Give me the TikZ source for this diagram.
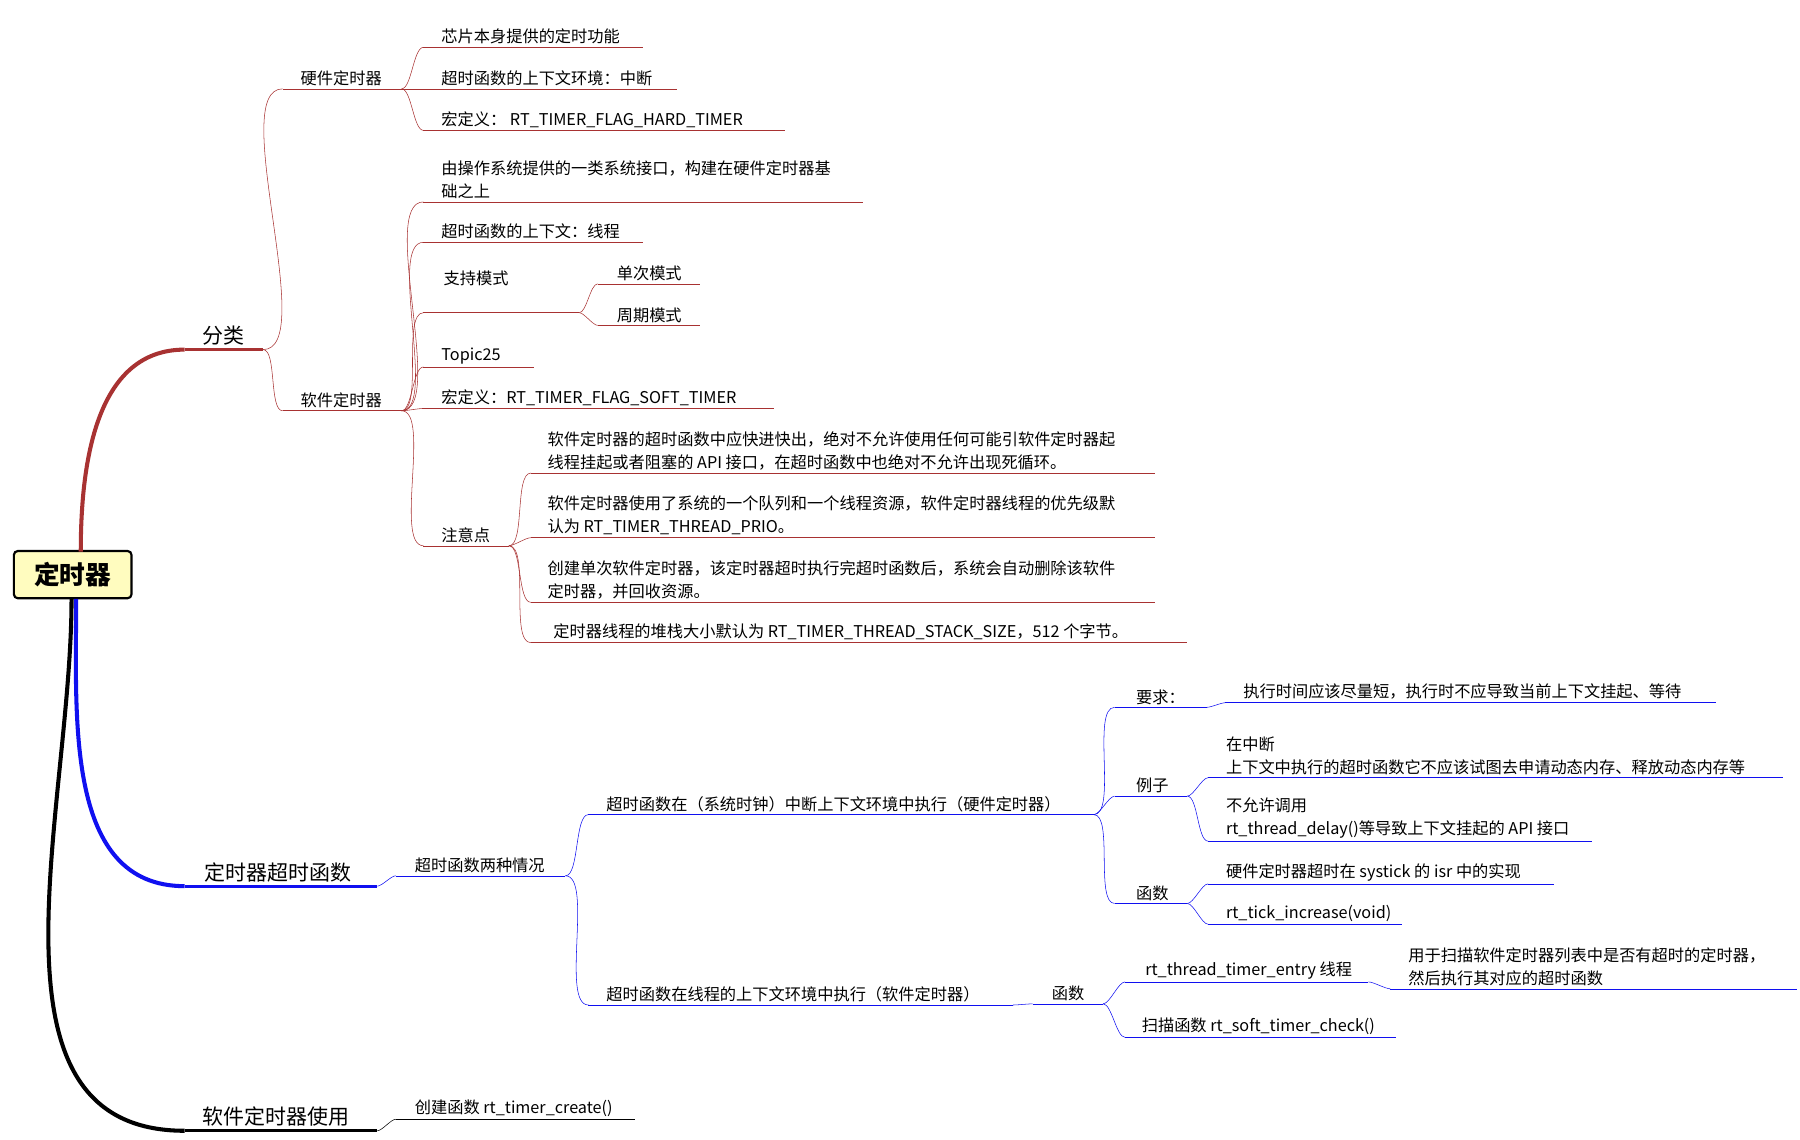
\documentclass[tikz,border=0pt]{standalone}
\usepackage{fontspec}
\setmainfont{Noto Sans CJK SC}
\definecolor{dred}{HTML}{A83232}
\definecolor{bl}{HTML}{1010F0}
\tikzset{lbl/.style={anchor=south west,inner sep=2pt,font=\fontsize{12}{17}\selectfont,align=left,text=black},
 big/.style={anchor=south west,inner sep=2pt,font=\fontsize{15.5}{18}\selectfont,text=black},
 cv/.style={out=0,in=180,looseness=0.55}}
\newcommand{\br}[7][lbl]{%
 \coordinate (#2-s) at (#3,#5); \coordinate (#2-e) at (#4,#5);
 \draw (#2-s)--(#2-e);
 \node[#1] (#2) at (#6,#5) {#7};}
\newcommand{\cn}[2]{\draw (#1-e) to[cv] (#2-s);}
\begin{document}
\begin{tikzpicture}[x=0.03cm,y=-0.03cm]
\useasboundingbox (0,0) rectangle (1560,988);
\node[draw=black,line width=1.6pt,rounded corners=3pt,fill=yellow!25,inner sep=0pt,
 minimum width=3.06cm,minimum height=1.23cm,font=\fontsize{19}{20}\selectfont\bfseries] (root) at (63,498) {定时器};
% ---- 分类
\begin{scope}[dred]
\begin{scope}[line width=2.2pt]\br[big]{fl}{160}{228}{303}{172}{分类}\end{scope}
\draw[line width=3pt] (70,478) to[out=90,in=180] (fl-s);
\br{hw}{245}{348}{77}{258}{硬件定时器}
\br{h1}{367}{557}{41}{380}{芯片本身提供的定时功能}
\br{h2}{367}{587}{77}{380}{超时函数的上下文环境：中断}
\br{h3}{367}{680}{113}{380}{宏定义： RT\_TIMER\_FLAG\_HARD\_TIMER}
\br{sw}{245}{348}{356}{258}{软件定时器}
\br{s1}{367}{748}{175}{380}{由操作系统提供的一类系统接口，构建在硬件定时器基\\础之上}
\br{s2}{367}{557}{210}{380}{超时函数的上下文：线程}
\br{s3}{367}{502}{271}{382}{支持模式\\[2pt]}
\br{s31}{518}{607}{246}{532}{单次模式}
\br{s32}{518}{607}{282}{532}{周期模式}
\br{s4}{367}{463}{318}{380}{Topic25}
\br{s5}{367}{671}{354}{380}{宏定义：RT\_TIMER\_FLAG\_SOFT\_TIMER}
\br{s6}{367}{441}{473}{380}{注意点}
\br{n1}{460}{1001}{410}{472}{软件定时器的超时函数中应快进快出，绝对不允许使用任何可能引软件定时器起\\线程挂起或者阻塞的 API 接口，在超时函数中也绝对不允许出现死循环。}
\br{n2}{460}{1001}{466}{472}{软件定时器使用了系统的一个队列和一个线程资源，软件定时器线程的优先级默\\认为 RT\_TIMER\_THREAD\_PRIO。}
\br{n3}{460}{1001}{522}{472}{创建单次软件定时器，该定时器超时执行完超时函数后，系统会自动删除该软件\\定时器，并回收资源。}
\br{n4}{460}{1029}{557}{477}{定时器线程的堆栈大小默认为 RT\_TIMER\_THREAD\_STACK\_SIZE，512 个字节。}
\draw (fl-e) to[cv] (hw-s); \draw (fl-e) to[cv] (sw-s);
\cn{hw}{h1}\cn{hw}{h2}\cn{hw}{h3}
\cn{sw}{s1}\cn{sw}{s2}\cn{sw}{s3}\cn{sw}{s4}\cn{sw}{s5}\cn{sw}{s6}
\cn{s3}{s31}\cn{s3}{s32}
\cn{s6}{n1}\cn{s6}{n2}\cn{s6}{n3}\cn{s6}{n4}
\end{scope}
% ---- 定时器超时函数
\begin{scope}[bl]
\begin{scope}[line width=2pt]\br[big]{cs}{160}{327}{768}{174}{定时器超时函数}\end{scope}
\draw[line width=3pt] (66,519) to[out=-90,in=180] (cs-s);
\br{c1}{343}{490}{759}{357}{超时函数两种情况}
\br{a}{510}{948}{706}{523}{超时函数在（系统时钟）中断上下文环境中执行（硬件定时器）}
\br{a1}{966}{1046}{613}{982}{要求：}
\br{a11}{1062}{1487}{609}{1075}{执行时间应该尽量短，执行时不应导致当前上下文挂起、等待}
\br{a2}{966}{1029}{690}{982}{例子}
\br{a21}{1047}{1545}{674}{1060}{在中断\\上下文中执行的超时函数它不应该试图去申请动态内存、释放动态内存等}
\br{a22}{1047}{1380}{729}{1060}{不允许调用\\rt\_thread\_delay()等导致上下文挂起的 API 接口}
\br{a3}{966}{1029}{783}{982}{函数}
\br{a31}{1047}{1347}{766}{1060}{硬件定时器超时在 systick 的 isr 中的实现}
\br{a32}{1047}{1215}{801}{1060}{rt\_tick\_increase(void)}
\br{b}{510}{878}{871}{523}{超时函数在线程的上下文环境中执行（软件定时器）}
\br{b1}{895}{956}{870}{909}{函数}
\br{b11}{975}{1186}{851}{990}{rt\_thread\_timer\_entry 线程}
\br{b111}{1205}{1557}{857}{1218}{用于扫描软件定时器列表中是否有超时的定时器，\\然后执行其对应的超时函数}
\br{b12}{975}{1210}{899}{987}{扫描函数 rt\_soft\_timer\_check()}
\draw (cs-e) to[cv] (c1-s);
\cn{c1}{a}\cn{c1}{b}\cn{a}{a1}\cn{a}{a2}\cn{a}{a3}\cn{a1}{a11}\cn{a2}{a21}\cn{a2}{a22}\cn{a3}{a31}\cn{a3}{a32}
\cn{b}{b1}\cn{b1}{b11}\cn{b1}{b12}\cn{b11}{b111}
\end{scope}
% ---- 软件定时器使用
\begin{scope}[black]
\begin{scope}[line width=2pt]\br[big]{u}{160}{327}{980}{172}{软件定时器使用}\end{scope}
\draw[line width=3pt] (62,519) to[out=-90,in=180] (u-s);
\br{u1}{343}{550}{970}{357}{创建函数 rt\_timer\_create()}
\draw (u-e) to[cv] (u1-s);
\end{scope}
\end{tikzpicture}
\end{document}
